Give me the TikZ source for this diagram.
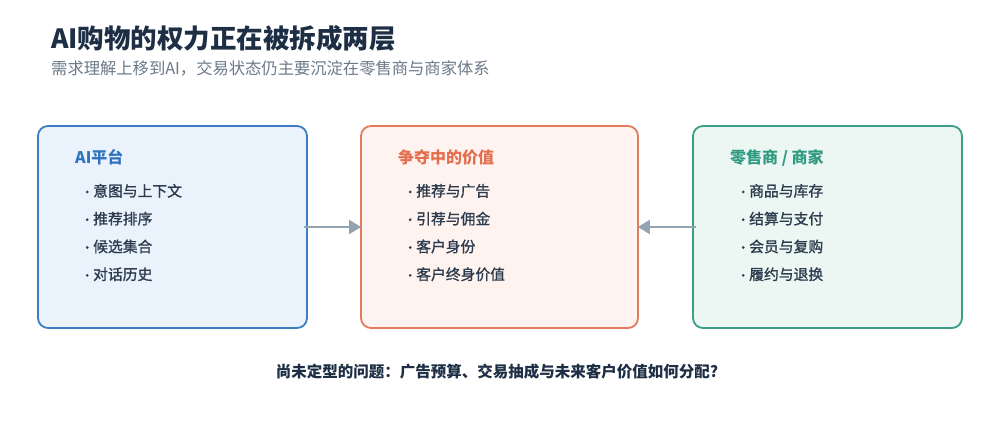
\documentclass[tikz,border=0pt]{standalone}
\usepackage{fontspec}
\setmainfont{Noto Sans CJK SC}
\newfontfamily\medfont{Noto Sans CJK SC}[FakeBold=1.2]
\usepackage{tikz}
\usetikzlibrary{arrows.meta, positioning}

\definecolor{inkdark}{HTML}{1E2F45}
\definecolor{inkgray}{HTML}{6C7A89}
\definecolor{inkitem}{HTML}{2C3B4D}
\definecolor{ailine}{HTML}{3C7DC4}
\definecolor{aifill}{HTML}{EAF2FC}
\definecolor{aitext}{HTML}{2F73BF}
\definecolor{midline}{HTML}{E27B5E}
\definecolor{midfill}{HTML}{FEF3EF}
\definecolor{midtext}{HTML}{E46F4F}
\definecolor{shopline}{HTML}{3A9E89}
\definecolor{shopfill}{HTML}{ECF7F3}
\definecolor{shoptext}{HTML}{2F9A80}
\definecolor{arrgray}{HTML}{94A3B2}

\newcommand{\bul}[1]{\makebox[12pt][l]{\fontsize{12}{12}\selectfont •}#1}

\tikzset{
  panel/.style={draw=#1line, fill=#1fill, line width=1.8pt, rounded corners=10pt,
    minimum height=202pt, inner sep=0pt},
  head/.style={anchor=base west, inner sep=0pt, font=\fontsize{16}{16}\selectfont\bfseries, text=#1text},
  entry/.style={anchor=base west, inner sep=0pt, font=\fontsize{14.8}{14.8}\medfont, text=inkitem},
  flow/.style={draw=arrgray, line width=2.2pt, -{Triangle[length=12pt,width=14pt]}}
}

\begin{document}
\begin{tikzpicture}[x=1pt,y=-1pt]
  \useasboundingbox[fill=white] (0,0) rectangle (1000,439);

  % titles
  \node[anchor=base west, inner sep=0pt, text=inkdark, font=\fontsize{26.5}{26.5}\selectfont\bfseries]
    (title) at (51,48.5) {AI购物的权力正在被拆成两层};
  \node[anchor=base west, inner sep=0pt, text=inkgray, font=\fontsize{16.3}{16.3}\selectfont]
    (subtitle) at (51,74.5) {需求理解上移到AI，交易状态仍主要沉淀在零售商与商家体系};

  % panels
  \node[panel=ai, minimum width=269pt] (ai) at (172.5,227) {};
  \node[panel=mid, minimum width=277pt] (mid) at (499.5,227) {};
  \node[panel=shop, minimum width=269pt] (shop) at (827.5,227) {};

  % AI platform
  \node[head=ai] (aihead) at (75,163.5) {AI平台};
  \node[entry] (ai1) at (81,196.5) {\bul{意图与上下文}};
  \node[entry] (ai2) at (81,224.3) {\bul{推荐排序}};
  \node[entry] (ai3) at (81,252.1) {\bul{候选集合}};
  \node[entry] (ai4) at (81,279.9) {\bul{对话历史}};

  % contested value
  \node[head=mid] (midhead) at (398,163.5) {争夺中的价值};
  \node[entry] (mid1) at (404,196.5) {\bul{推荐与广告}};
  \node[entry] (mid2) at (404,224.3) {\bul{引荐与佣金}};
  \node[entry] (mid3) at (404,252.1) {\bul{客户身份}};
  \node[entry] (mid4) at (404,279.9) {\bul{客户终身价值}};

  % retailers
  \node[head=shop] (shophead) at (730,163.5) {零售商 / 商家};
  \node[entry] (shop1) at (737,196.5) {\bul{商品与库存}};
  \node[entry] (shop2) at (737,224.3) {\bul{结算与支付}};
  \node[entry] (shop3) at (737,252.1) {\bul{会员与复购}};
  \node[entry] (shop4) at (737,279.9) {\bul{履约与退换}};

  % connectors
  \draw[flow] ([xshift=-4pt]ai.east) -- ([xshift=1pt]mid.west);
  \draw[flow] ([xshift=4pt]shop.west) -- ([xshift=-1pt]mid.east);

  \node[anchor=base, inner sep=0pt, text=inkdark, font=\fontsize{15.5}{15.5}\selectfont\bfseries]
    (question) at (497,377.5) {尚未定型的问题：广告预算、交易抽成与未来客户价值如何分配?};
\end{tikzpicture}
\end{document}
